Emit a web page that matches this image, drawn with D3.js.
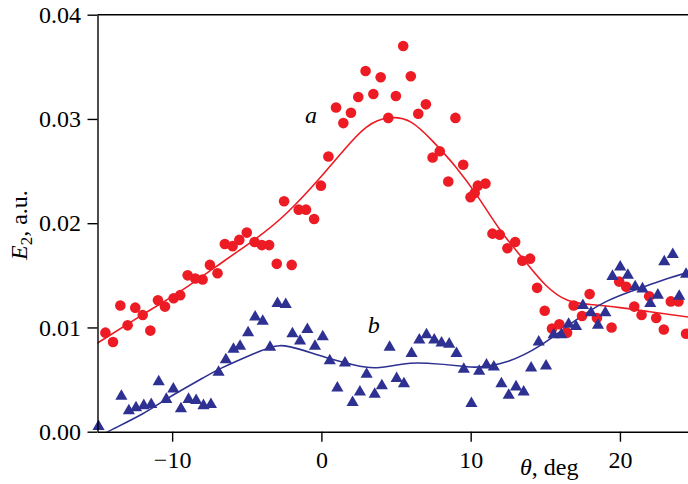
<!DOCTYPE html>
<html>
<head>
	<meta charset="UTF-8">
	<script src="https://d3js.org/d3.v7.min.js"></script>
	<title>E2 vs theta</title>
	<style>
		body { margin: 0; background: #fff; }
	</style>
</head>
<body>
	<svg></svg>
	<script type="text/javascript">
		const width = 688;
		const height = 484;

		// series a (circles)
		const redTheta = [-14.47, -13.96, -13.47, -12.98, -12.47, -11.97, -11.46, -10.95, -10.48, -9.9,
			-9.46, -8.96, -8.45, -7.96, -7.47, -6.96, -6.47, -5.95, -5.5, -5.0,
			-4.48, -3.99, -3.5, -2.99, -2.5, -1.99, -1.52, -1.03, -0.49, -0.03,
			0.47, 0.98, 1.47, 1.98, 2.47, 2.96, 3.48, 3.97, 4.48, 4.99,
			5.48, 5.99, 6.49, 7.0, 7.45, 7.93, 8.5, 8.98, 9.5, 9.99,
			10.27, 10.48, 10.99, 11.46, 11.95, 12.46, 12.98, 13.46, 13.98, 14.45,
			14.96, 15.45, 15.94, 16.46, 16.9, 17.46, 17.97, 18.46, 19.44, 19.95,
			20.42, 20.96, 21.45, 21.96, 22.43, 22.94, 23.41, 23.92, 24.43];
		const redE = [0.0095, 0.0086, 0.0121, 0.0102, 0.0119, 0.0112, 0.0097, 0.0126, 0.0120, 0.0128,
			0.0131, 0.0150, 0.0147, 0.0146, 0.0160, 0.0152, 0.0180, 0.0178, 0.0184, 0.0191,
			0.0182, 0.0179, 0.0179, 0.0161, 0.0221, 0.0160, 0.0213, 0.0213, 0.0204, 0.0236,
			0.0264, 0.0311, 0.0296, 0.0306, 0.0321, 0.0346, 0.0324, 0.0340, 0.0301, 0.0322,
			0.0370, 0.0341, 0.0305, 0.0314, 0.0263, 0.0269, 0.0240, 0.0301, 0.0256, 0.0225,
			0.0229, 0.0236, 0.0238, 0.0190, 0.0189, 0.0176, 0.0182, 0.0164, 0.0166, 0.0138,
			0.0116, 0.0099, 0.0103, 0.0095, 0.0121, 0.0111, 0.0132, 0.0109, 0.0100, 0.0144,
			0.0139, 0.0120, 0.0112, 0.0130, 0.0109, 0.0098, 0.0125, 0.0125, 0.0094];

		// series b (triangles)
		const blueTheta = [-14.93, -13.4, -12.9, -12.42, -11.9, -11.4, -10.9, -10.39, -9.92, -9.41,
			-8.9, -8.39, -7.9, -7.4, -6.89, -6.4, -5.89, -5.45, -4.91, -4.44,
			-3.93, -3.44, -2.94, -2.39, -1.94, -1.43, -0.94, -0.43, 0.09, 0.56,
			1.07, 1.58, 2.09, 2.58, 3.03, 3.57, 4.05, 4.57, 5.04, 5.53,
			6.04, 6.56, 7.04, 7.56, 8.05, 8.56, 9.05, 9.54, 10.05, 10.57,
			11.06, 11.55, 12.06, 12.55, 13.04, 13.55, 14.05, 14.56, 15.05, 15.56,
			16.07, 16.56, 17.06, 17.52, 18.06, 18.53, 19.02, 19.5, 20.02, 20.53,
			21.02, 21.51, 22.03, 22.54, 22.97, 23.54, 23.97, 24.43];
		const blueE = [0.0005, 0.0034, 0.0020, 0.0023, 0.0025, 0.0026, 0.0048, 0.0031, 0.0041, 0.0022,
			0.0031, 0.0030, 0.0025, 0.0026, 0.0057, 0.0069, 0.0079, 0.0082, 0.0095, 0.0110,
			0.0106, 0.0081, 0.0123, 0.0122, 0.0094, 0.0087, 0.0098, 0.0082, 0.0091, 0.0068,
			0.0042, 0.0066, 0.0028, 0.0038, 0.0055, 0.0036, 0.0044, 0.0081, 0.0051, 0.0046,
			0.0075, 0.0088, 0.0093, 0.0088, 0.0085, 0.0084, 0.0075, 0.0060, 0.0027, 0.0058,
			0.0064, 0.0062, 0.0046, 0.0035, 0.0043, 0.0038, 0.0061, 0.0086, 0.0063, 0.0093,
			0.0093, 0.0103, 0.0101, 0.0121, 0.0114, 0.0102, 0.0114, 0.0149, 0.0158, 0.0150,
			0.0139, 0.0137, 0.0123, 0.0131, 0.0163, 0.0170, 0.0130, 0.0151];

		// fitted curves
		const redFitTheta = [-15, -12, -9, -6.5, -4.5, -2.3, 0, 1.5, 3, 4.5, 6, 7.5, 9, 10.5, 12, 13.5, 15, 16.5, 18, 20, 22, 24.6];
		const redFitE = [0.0085, 0.0112, 0.0139, 0.0164, 0.0184, 0.0210, 0.0245, 0.0270, 0.0292, 0.0301, 0.0297, 0.0278,
			0.0254, 0.0225, 0.0193, 0.0166, 0.0141, 0.0126, 0.0122, 0.0119, 0.0115, 0.0110];
		const blueFitTheta = [-15, -14.3, -12, -10.3, -8, -6.7, -4.5, -2.8, -1.2, 0.6, 2.2, 3.7, 5.5, 7.1, 9.3, 10.5, 12.4, 14.7, 16.9, 19.1, 21.2, 23, 24.6];
		const blueFitE = [-0.0006, 0.0, 0.0017, 0.0032, 0.0051, 0.0061, 0.0075, 0.00825, 0.0078, 0.0070, 0.0064, 0.00614,
			0.0065, 0.00656, 0.0063, 0.0062, 0.0067, 0.0083, 0.01055, 0.0125, 0.0137, 0.0146, 0.0153];

		const xTicks = [-10, 0, 10, 20];
		const yTicks = [0, 0.01, 0.02, 0.03, 0.04];

		const red = "#ed1c24";
		const blue = "#2e3192";
		const serif = "Liberation Serif";

		const x = d3.scaleLinear()
			.domain([-15, 24.56])
			.range([97.5, 688]);

		const y = d3.scaleLinear()
			.domain([0, 0.04])
			.range([431.7, 14.7]);

		const svg = d3.select("svg")
			.attr("width", width)
			.attr("height", height)
			.attr("viewBox", [0, 0, width, height]);

		svg.append("defs").append("clipPath")
			.attr("id", "plot")
			.append("rect")
			.attr("x", x.range()[0])
			.attr("y", y.range()[1])
			.attr("width", x.range()[1] - x.range()[0])
			.attr("height", y.range()[0] - y.range()[1]);

		const line = d3.line()
			.x(d => x(d[0]))
			.y(d => y(d[1]))
			.curve(d3.curveNatural);

		svg.append("path")
			.attr("clip-path", "url(#plot)")
			.attr("d", line(d3.zip(redFitTheta, redFitE)))
			.attr("fill", "none")
			.attr("stroke", red)
			.attr("stroke-width", 1.6);

		svg.append("path")
			.attr("clip-path", "url(#plot)")
			.attr("d", line(d3.zip(blueFitTheta, blueFitE)))
			.attr("fill", "none")
			.attr("stroke", blue)
			.attr("stroke-width", 1.6);

		svg.append("g")
			.attr("fill", red)
			.selectAll("circle")
			.data(d3.zip(redTheta, redE))
			.join("circle")
			.attr("cx", d => x(d[0]))
			.attr("cy", d => y(d[1]))
			.attr("r", 5.3);

		const tri = d3.symbol(d3.symbolTriangle, 64);
		svg.append("g")
			.attr("fill", blue)
			.selectAll("path")
			.data(d3.zip(blueTheta, blueE))
			.join("path")
			.attr("transform", d => `translate(${x(d[0])},${y(d[1])})`)
			.attr("d", tri);

		const fmtX = d => d < 0 ? "\u2212" + Math.abs(d) : String(d);

		svg.append("g")
			.attr("transform", `translate(0,${y(0)})`)
			.call(d3.axisBottom(x).tickValues(xTicks).tickFormat(fmtX).tickSize(10).tickSizeOuter(0).tickPadding(9))
			.call(g => g.selectAll("path, line").attr("stroke", "#000").attr("stroke-width", 1.4))
			.call(g => g.selectAll("text").attr("fill", "#000").attr("font-family", serif).attr("font-size", 24));

		svg.append("g")
			.attr("transform", `translate(${x(-15)},0)`)
			.call(d3.axisLeft(y).tickValues(yTicks).tickFormat(d3.format(".2f")).tickSize(10).tickSizeOuter(0).tickPadding(6.5))
			.call(g => g.selectAll("path, line").attr("stroke", "#000").attr("stroke-width", 1.4))
			.call(g => g.selectAll("text").attr("fill", "#000").attr("font-family", serif).attr("font-size", 24));

		// top frame line
		svg.append("line")
			.attr("x1", x.range()[0])
			.attr("x2", x.range()[1])
			.attr("y1", y(0.04))
			.attr("y2", y(0.04))
			.attr("stroke", "#000")
			.attr("stroke-width", 1.4);

		// curve labels
		svg.append("text")
			.attr("x", x(-0.7))
			.attr("y", y(0.0303) + 7)
			.attr("text-anchor", "middle")
			.attr("font-family", serif)
			.attr("font-size", 24)
			.attr("font-style", "italic")
			.text("a");

		svg.append("text")
			.attr("x", x(3.5))
			.attr("y", y(0.0101) + 7)
			.attr("text-anchor", "middle")
			.attr("font-family", serif)
			.attr("font-size", 24)
			.attr("font-style", "italic")
			.text("b");

		// axis titles
		const xt = svg.append("text")
			.attr("x", 520)
			.attr("y", 475)
			.attr("font-family", serif)
			.attr("font-size", 24);
		xt.append("tspan").attr("font-style", "italic").text("\u03b8");
		xt.append("tspan").text(", deg");

		const yt = svg.append("text")
			.attr("transform", "translate(27,260) rotate(-90)")
			.attr("font-family", serif)
			.attr("font-size", 24);
		yt.append("tspan").attr("font-style", "italic").text("E");
		yt.append("tspan").attr("font-size", 17).attr("dy", 5).text("2");
		yt.append("tspan").attr("dy", -5).text(", a.u.");
	</script>
</body>
</html>
